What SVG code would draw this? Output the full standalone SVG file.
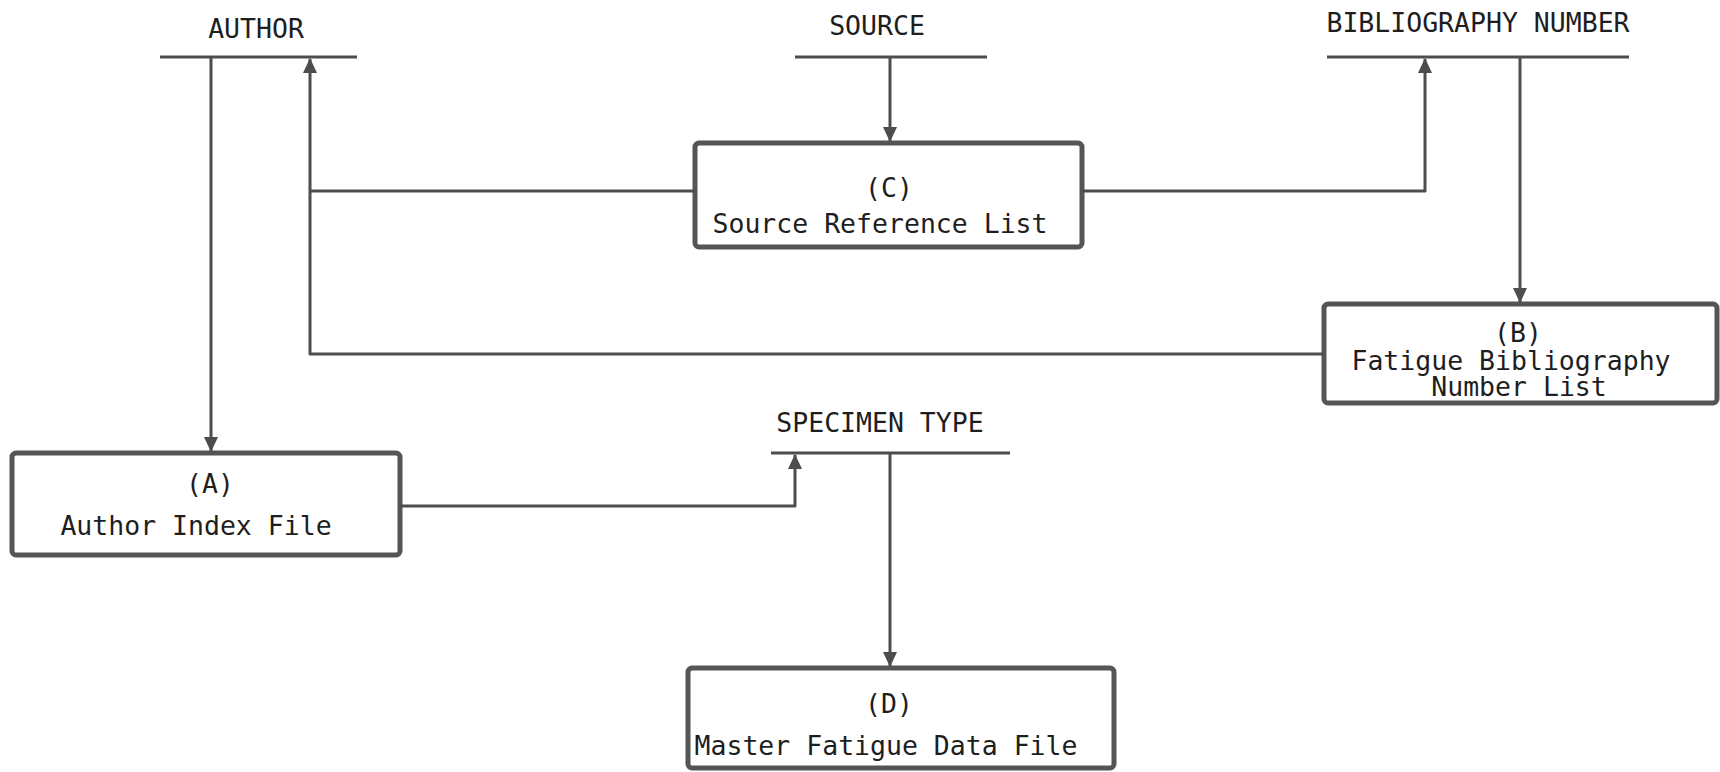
<svg xmlns="http://www.w3.org/2000/svg" width="1720" height="772" viewBox="0 0 1720 772">
  <style>
    .bar { stroke: #4d4d4d; stroke-width: 3; fill: none; }
    .box { fill: #ffffff; stroke: #555555; stroke-width: 5; }
    .wire { stroke: #4d4d4d; stroke-width: 3; fill: none; stroke-linejoin: round; }
    .lbl { font-family: "DejaVu Sans Mono", "Liberation Mono", monospace; font-size: 26.5px; fill: #1e1e1e; }
    .mid { text-anchor: middle; }
  </style>
  <defs>
    <marker id="arrow" markerUnits="userSpaceOnUse" markerWidth="16" markerHeight="18" refX="14" refY="7" orient="auto">
      <path d="M0,0 L15,7 L0,14 Z" fill="#4d4d4d"/>
    </marker>
  </defs>
  <rect width="1720" height="772" fill="#ffffff"/>

  <!-- data stores: label over a bar -->
  <g id="author">
    <text class="lbl mid" x="256" y="38">AUTHOR</text>
    <line class="bar" x1="160" y1="57" x2="357" y2="57"/>
  </g>
  <g id="source">
    <text class="lbl mid" x="877" y="35">SOURCE</text>
    <line class="bar" x1="795" y1="57" x2="987" y2="57"/>
  </g>
  <g id="bibliography-number">
    <text class="lbl mid" x="1478" y="32">BIBLIOGRAPHY NUMBER</text>
    <line class="bar" x1="1327" y1="57" x2="1629" y2="57"/>
  </g>
  <g id="specimen-type">
    <text class="lbl mid" x="880" y="432">SPECIMEN TYPE</text>
    <line class="bar" x1="771" y1="453" x2="1010" y2="453"/>
  </g>

  <!-- files -->
  <g id="file-c">
    <rect class="box" x="695" y="143" width="387" height="104" rx="4"/>
    <text class="lbl mid" x="889" y="197">(C)</text>
    <text class="lbl mid" x="880" y="233">Source Reference List</text>
  </g>
  <g id="file-b">
    <rect class="box" x="1324" y="304" width="393" height="99" rx="4"/>
    <text class="lbl mid" x="1518" y="342">(B)</text>
    <text class="lbl mid" x="1511" y="370">Fatigue Bibliography</text>
    <text class="lbl mid" x="1519" y="396">Number List</text>
  </g>
  <g id="file-a">
    <rect class="box" x="12" y="453" width="388" height="102" rx="4"/>
    <text class="lbl mid" x="210" y="493">(A)</text>
    <text class="lbl mid" x="196" y="535">Author Index File</text>
  </g>
  <g id="file-d">
    <rect class="box" x="688" y="668" width="426" height="100" rx="4"/>
    <text class="lbl mid" x="889" y="713">(D)</text>
    <text class="lbl mid" x="886" y="755">Master Fatigue Data File</text>
  </g>

  <!-- connectors -->
  <g id="connectors">
    <path class="wire" d="M211,57 L211,451" marker-end="url(#arrow)"/>
    <path class="wire" d="M890,57 L890,141" marker-end="url(#arrow)"/>
    <path class="wire" d="M1520,57 L1520,302" marker-end="url(#arrow)"/>
    <path class="wire" d="M890,453 L890,666" marker-end="url(#arrow)"/>
    <path class="wire" d="M695,191 L310,191"/>
    <path class="wire" d="M1324,354 L310,354 L310,59" marker-end="url(#arrow)"/>
    <path class="wire" d="M1082,191 L1425,191 L1425,59" marker-end="url(#arrow)"/>
    <path class="wire" d="M400,506 L795,506 L795,455" marker-end="url(#arrow)"/>
  </g>
</svg>
